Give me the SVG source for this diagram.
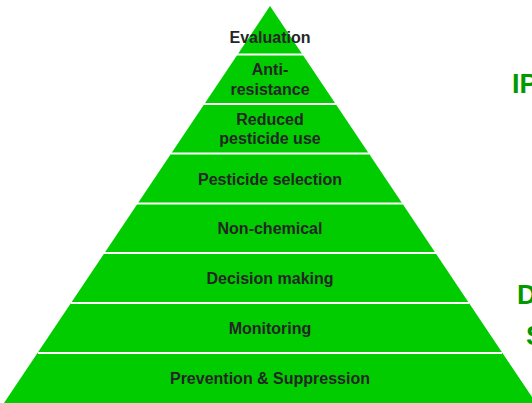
<svg xmlns="http://www.w3.org/2000/svg" width="532" height="403" viewBox="0 0 532 403">
<style>
.lbl{font-family:"Liberation Sans",Arial,sans-serif;font-weight:bold;font-size:16px;fill:#262626;text-anchor:middle}
.side{font-family:"Liberation Sans",Arial,sans-serif;font-weight:bold;font-size:27px;fill:#009900}
.sep{stroke:#ffffff;stroke-width:2}
</style>
<rect width="532" height="403" fill="#ffffff"/>
<g id="pyramid">
<polygon points="270,6 4,403 536,403" fill="#00cc00"/>
</g>
<g id="connectors">
<line class="sep" x1="237" y1="54.5" x2="303" y2="54.5"/>
<line class="sep" x1="204" y1="104" x2="336" y2="104"/>
<line class="sep" x1="171" y1="153.5" x2="369" y2="153.5"/>
<line class="sep" x1="137" y1="203.5" x2="403" y2="203.5"/>
<line class="sep" x1="104" y1="253" x2="436" y2="253"/>
<line class="sep" x1="71" y1="303" x2="469" y2="303"/>
<line class="sep" x1="38" y1="353" x2="502" y2="353"/>
</g>
<g id="evaluation"><text class="lbl" x="270" y="43">Evaluation</text></g>
<g id="anti-resistance"><text class="lbl" x="270" y="75">Anti-</text><text class="lbl" x="270" y="95">resistance</text></g>
<g id="reduced"><text class="lbl" x="270" y="125">Reduced</text><text class="lbl" x="270" y="144">pesticide use</text></g>
<g id="selection"><text class="lbl" x="270" y="185">Pesticide selection</text></g>
<g id="nonchemical"><text class="lbl" x="270" y="234">Non-chemical</text></g>
<g id="decision"><text class="lbl" x="270" y="284">Decision making</text></g>
<g id="monitoring"><text class="lbl" x="270" y="334">Monitoring</text></g>
<g id="prevention"><text class="lbl" x="270" y="384">Prevention &amp; Suppression</text></g>
<g id="side-labels">
<text class="side" x="512" y="93">IP</text>
<text class="side" x="517" y="304">D</text>
<text class="side" x="526" y="345">S</text>
</g>
</svg>
